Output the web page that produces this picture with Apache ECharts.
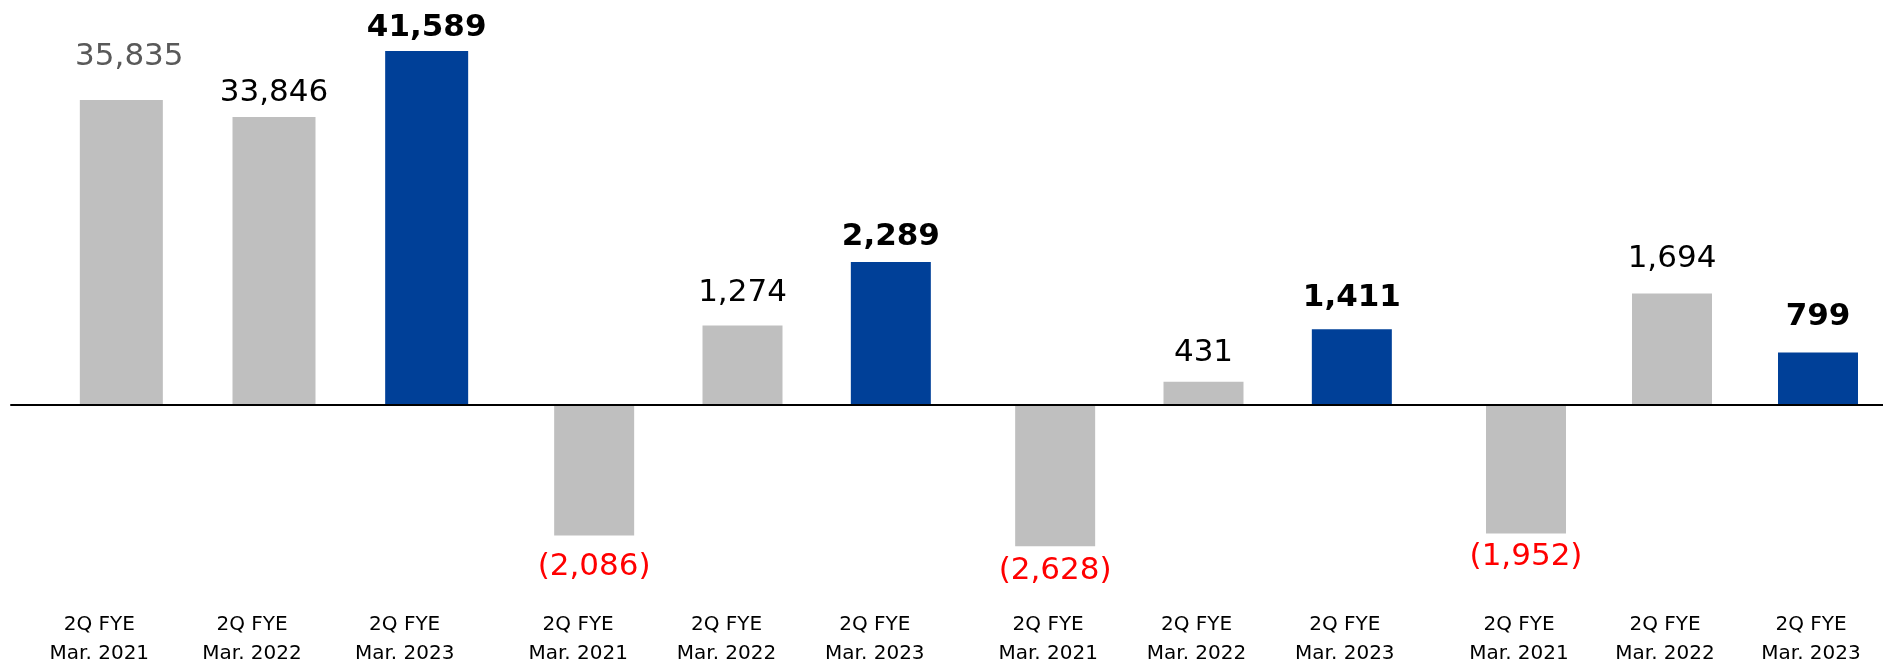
<!DOCTYPE html>
<html>
<head>
<meta charset="utf-8">
<script src="https://cdn.jsdelivr.net/npm/echarts@6/dist/echarts.min.js"></script>
<style>
  html, body { margin: 0; padding: 0; background: #fff; }
  #chart { width: 1883px; height: 662px; }
</style>
</head>
<body>
<div id="chart"></div>
<script>
// periods (same for every block)
const periods = ['2Q FYE\nMar. 2021', '2Q FYE\nMar. 2022', '2Q FYE\nMar. 2023']

// one array per block of bars
const block1 = [35835, 33846, 41589]
const block2 = [-2086, 1274, 2289]
const block3 = [-2628, 431, 1411]
const block4 = [-1952, 1694, 799]

// each block has its own vertical scale, zero sits on the same line
const yMax = [42888, 5840, 6789, 5548]
const yMin = [-22913, -3120, -3627, -2964]

const blocks = [block1, block2, block3, block4]
const GRAY = '#bfbfbf'
const BLUE = '#004098'
const FONT = 'Verdana, "DejaVu Sans", sans-serif'

const gridPos = [
  { left: 45, width: 458 },
  { left: 520, width: 445 },
  { left: 981, width: 445 },
  { left: 1453, width: 438 }
]
const labelShift = [44, 32, 14, 14]
// gap between bar end and its value label (styling only)
const labelGap = [
  [28, 8, 8],
  [16, 17, 9],
  [9, 13, 16],
  [8, 19, 20]
]

function fmt(v) {
  const s = Math.abs(v).toLocaleString('en-US')
  return v < 0 ? '(' + s + ')' : s
}

const chart = echarts.init(document.getElementById('chart'))

const grid = [{ left: 11, right: 0, top: 0, height: 405, outerBoundsMode: 'none', containLabel: false }]
const xAxis = [{
  gridIndex: 0, type: 'value', min: 0, max: 1, z: 5,
  axisLine: { show: true, lineStyle: { color: '#000', width: 2 } },
  axisTick: { show: false }, axisLabel: { show: false }, splitLine: { show: false }
}]
const yAxis = [{ gridIndex: 0, type: 'value', show: false }]
const series = []

blocks.forEach((vals, b) => {
  const g = b + 1
  grid.push({
    left: gridPos[b].left, width: gridPos[b].width, top: 40, bottom: 62,
    outerBoundsMode: 'none', containLabel: false
  })
  xAxis.push({
    gridIndex: g,
    type: 'category',
    data: periods,
    axisLine: { show: false, onZero: false },
    axisTick: { show: false },
    axisLabel: {
      color: '#000', fontFamily: FONT, fontSize: 20, lineHeight: 29,
      margin: 10, padding: [0, labelShift[b], 0, 0]
    }
  })
  yAxis.push({ gridIndex: g, type: 'value', show: false, min: yMin[b], max: yMax[b], splitLine: { show: false } })
  series.push({
    type: 'bar',
    xAxisIndex: g,
    yAxisIndex: g,
    barWidth: b === 0 ? 83 : 80,
    data: vals.map((v, i) => {
      const latest = i === vals.length - 1
      let color = '#000'
      if (v < 0) color = '#ff0000'
      else if (b === 0 && i === 0) color = '#595959'
      return {
        value: v,
        itemStyle: { color: latest ? BLUE : GRAY },
        label: {
          position: v < 0 ? 'bottom' : 'top',
          distance: labelGap[b][i],
          offset: b === 0 && i === 0 ? [8, 0] : [0, 0],
          color: color,
          fontWeight: latest ? 'bold' : 'normal'
        }
      }
    }),
    label: {
      show: true,
      fontFamily: FONT,
      fontSize: 31,
      formatter: p => fmt(p.value)
    },
    animation: false
  })
})

chart.setOption({ grid, xAxis, yAxis, series, animation: false })
</script>
</body>
</html>
